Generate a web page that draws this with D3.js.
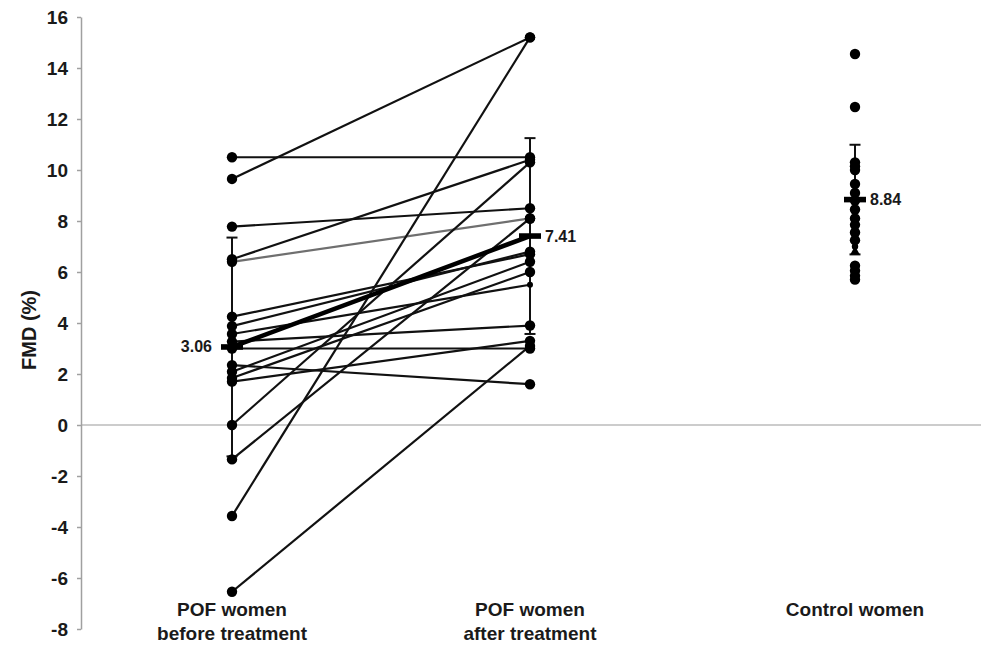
<!DOCTYPE html>
<html>
<head>
<meta charset="utf-8">
<script src="https://cdn.jsdelivr.net/npm/d3@7"></script>
<style>
  html, body { margin: 0; padding: 0; background: #fff; }
  svg { display: block; font-family: "Liberation Sans", Arial, sans-serif; }
</style>
</head>
<body>
<svg id="chart" width="981" height="645"></svg>
<script>
// ---- data ----
const categories = [
  ["POF women", "before treatment"],
  ["POF women", "after treatment"],
  ["Control women"]
];
const yTicks = [-8, -6, -4, -2, 0, 2, 4, 6, 8, 10, 12, 14, 16];

// paired POF values (index i: before -> after)
const beforeValues = [10.5, 9.65, 7.78, 6.5, 6.4, 4.25, 3.88, 3.57, 3.27, 3.0, 2.35, 2.09, 1.84, 1.70, 0.0, -1.35, -3.57, -6.54];
const afterValues  = [10.5, 15.2, 8.5, 10.4, 8.1, 6.7, 6.8, 5.5, 3.9, 3.0, 1.6, 6.4, 6.0, 3.3, 10.3, 8.1, 15.2, 3.1];
const greyPair = 4;           // the lighter connecting line
const smallAfterIndex = 7;    // small marker on the after column

const controlValues = [14.55, 12.47, 10.3, 10.15, 10.0, 9.45, 9.1, 8.8, 8.45, 8.1, 7.85, 7.55, 7.25, 7.0, 6.25, 6.05, 5.85, 5.7];
const controlTriangle = [6.8];

const groupMeans = [3.06, 7.41, 8.84];
const groupSD = [4.29, 3.84, 2.15];
const meanLabels = ["3.06", "7.41", "8.84"];

// ---- layout ----
const svg = d3.select("#chart");
const W = 981, H = 645;
const axisX = 81;

const y = d3.scaleLinear().domain([-8, 16]).range([629, 17]);
const x = d3.scaleOrdinal().domain(d3.range(categories.length)).range([232, 530, 855]);

// zero line
svg.append("line")
  .attr("x1", axisX).attr("x2", W)
  .attr("y1", y(0)).attr("y2", y(0))
  .attr("stroke", "#9a9a9a").attr("stroke-width", 1.2);

// y axis
const yAxis = svg.append("g")
  .attr("transform", `translate(${axisX},0)`)
  .call(d3.axisLeft(y).tickValues(yTicks).tickFormat(d => String(d))
        .tickSize(4).tickPadding(9).tickSizeOuter(0));
yAxis.select(".domain").attr("stroke", "#a0a0a0").attr("stroke-width", 1.5);
yAxis.selectAll(".tick line").attr("stroke", "#a0a0a0").attr("stroke-width", 1.5);
yAxis.selectAll(".tick text")
  .attr("fill", "#1a1a1a").style("font-size", "19px").style("font-weight", "bold");

// y label
svg.append("text")
  .attr("transform", `translate(36,330) rotate(-90)`)
  .attr("text-anchor", "middle")
  .style("font-size", "20px").style("font-weight", "bold").attr("fill", "#1a1a1a")
  .text("FMD (%)");

// category labels
categories.forEach((lines, i) => {
  const t = svg.append("text")
    .attr("text-anchor", "middle")
    .attr("x", x(i)).attr("y", 616)
    .style("font-size", "19px").style("font-weight", "bold").attr("fill", "#1a1a1a");
  lines.forEach((ln, j) => {
    t.append("tspan").attr("x", x(i)).attr("dy", j === 0 ? 0 : 24).text(ln);
  });
});

// connecting lines for POF pairs
const pairs = beforeValues.map((b, i) => ({ b, a: afterValues[i], i }));
svg.append("g").selectAll("line")
  .data(pairs)
  .join("line")
  .attr("x1", x(0)).attr("x2", x(1))
  .attr("y1", d => y(d.b)).attr("y2", d => y(d.a))
  .attr("stroke", d => d.i === greyPair ? "#6f6f6f" : "#111")
  .attr("stroke-width", 2.2);

// mean connecting line
svg.append("line")
  .attr("x1", x(0)).attr("x2", x(1))
  .attr("y1", y(groupMeans[0])).attr("y2", y(groupMeans[1]))
  .attr("stroke", "#000").attr("stroke-width", 4.5);

// error bars
const capW = 11;
groupMeans.forEach((m, i) => {
  const g = svg.append("g").attr("stroke", "#111").attr("stroke-width", 2);
  g.append("line").attr("x1", x(i)).attr("x2", x(i))
    .attr("y1", y(m + groupSD[i])).attr("y2", y(m - groupSD[i]));
  [m + groupSD[i], m - groupSD[i]].forEach(v => {
    g.append("line").attr("x1", x(i) - capW / 2).attr("x2", x(i) + capW / 2)
      .attr("y1", y(v)).attr("y2", y(v));
  });
});

// dots
const dotR = 5.2;
svg.append("g").selectAll("circle")
  .data(beforeValues)
  .join("circle")
  .attr("cx", x(0)).attr("cy", d => y(d)).attr("r", dotR).attr("fill", "#000");
svg.append("g").selectAll("circle")
  .data(afterValues.map((v, i) => ({ v, i })))
  .join("circle")
  .attr("cx", x(1)).attr("cy", d => y(d.v))
  .attr("r", d => d.i === smallAfterIndex ? 3 : dotR).attr("fill", "#000");
svg.append("g").selectAll("circle")
  .data(controlValues)
  .join("circle")
  .attr("cx", x(2)).attr("cy", d => y(d))
  .attr("r", d => d === 7.0 ? 3.2 : dotR).attr("fill", "#000");
svg.append("g").selectAll("path")
  .data(controlTriangle)
  .join("path")
  .attr("d", d3.symbol(d3.symbolTriangle, 40))
  .attr("transform", d => `translate(${x(2)},${y(d)})`)
  .attr("fill", "#000");

// mean markers and labels
groupMeans.forEach((m, i) => {
  svg.append("rect")
    .attr("x", x(i) - 11).attr("width", 22)
    .attr("y", y(m) - 2.8).attr("height", 5.6)
    .attr("fill", "#000");
  svg.append("text")
    .attr("x", i === 0 ? x(i) - 20 : x(i) + 15)
    .attr("y", y(m) + 5.5)
    .attr("text-anchor", i === 0 ? "end" : "start")
    .style("font-size", "16px").style("font-weight", "bold").attr("fill", "#1a1a1a")
    .text(meanLabels[i]);
});
</script>
</body>
</html>
